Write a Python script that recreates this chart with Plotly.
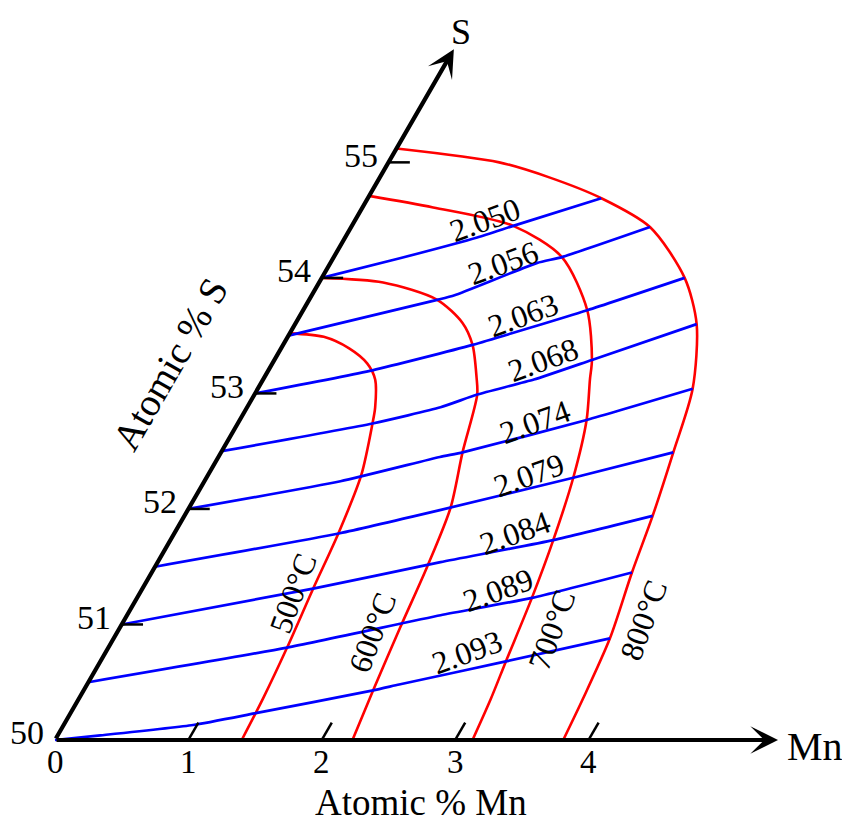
import numpy as np
import plotly.graph_objects as go

# ---------------- data (composition: atomic % Mn, atomic % S) ----------------
iso_labels = ["2.050", "2.056", "2.063", "2.068", "2.074", "2.079", "2.084", "2.089", "2.093"]

iso_2050_mn = [0.00, 0.50, 0.99, 1.21, 1.75]
iso_2050_s = [54.00, 54.17, 54.35, 54.45, 54.69]
iso_2056_mn = [0.00, 0.96, 1.07, 1.55, 1.71, 2.24]
iso_2056_s = [53.50, 53.81, 53.85, 54.13, 54.18, 54.44]
iso_2063_mn = [0.00, 0.78, 1.42, 2.13, 2.72]
iso_2063_s = [53.00, 53.20, 53.42, 53.72, 54.00]
iso_2068_mn = [0.00, 1.01, 1.45, 1.67, 2.03, 2.38, 3.01]
iso_2068_s = [52.50, 52.74, 52.88, 52.99, 53.12, 53.29, 53.60]
iso_2074_mn = [0.00, 1.02, 1.66, 1.81, 2.60, 3.26]
iso_2074_s = [52.00, 52.24, 52.45, 52.49, 52.77, 53.04]
iso_2079_mn = [0.00, 1.24, 1.89, 2.75, 3.39]
iso_2079_s = [51.50, 51.79, 51.99, 52.27, 52.49]
iso_2084_mn = [0.00, 1.28, 2.12, 2.87, 3.51]
iso_2084_s = [51.00, 51.31, 51.54, 51.73, 51.94]
iso_2089_mn = [0.00, 1.34, 2.35, 2.96, 3.60]
iso_2089_s = [50.50, 50.80, 51.08, 51.23, 51.45]
iso_2093_mn = [0.00, 0.32, 0.97, 1.38, 2.17, 2.34, 3.04, 3.72]
iso_2093_s = [50.00, 50.04, 50.13, 50.23, 50.43, 50.48, 50.68, 50.88]

temp_labels = ["500°C", "600°C", "700°C", "800°C"]

t500_mn = [0.00, 0.27, 0.51, 0.71, 0.84, 0.96, 1.01, 1.15, 1.23, 1.28, 1.34, 1.38, 1.40]
t500_s = [53.52, 53.49, 53.39, 53.26, 53.12, 52.88, 52.74, 52.29, 51.79, 51.31, 50.80, 50.36, 50.00]
t600_mn = [0.00, 0.48, 0.96, 1.25, 1.42, 1.59, 1.67, 1.81, 1.96, 2.04, 2.10, 2.17, 2.23]
t600_s = [54.00, 53.96, 53.81, 53.61, 53.42, 53.14, 52.99, 52.49, 52.01, 51.50, 50.98, 50.43, 50.00]
t700_mn = [0.00, 0.53, 1.21, 1.71, 2.13, 2.38, 2.45, 2.60, 2.75, 2.87, 2.96, 3.04, 3.09, 3.13]
t700_s = [54.71, 54.61, 54.45, 54.18, 53.72, 53.29, 53.12, 52.77, 52.27, 51.73, 51.23, 50.68, 50.35, 50.00]
t800_mn = [0.00, 0.83, 1.27, 1.75, 2.24, 2.72, 3.01, 3.26, 3.39, 3.51, 3.60, 3.72, 3.78, 3.81]
t800_s = [55.12, 55.00, 54.87, 54.69, 54.44, 54.00, 53.60, 53.04, 52.49, 51.94, 51.45, 50.88, 50.35, 50.00]

mn_ticks = [0, 1, 2, 3, 4]
mn_tick_labels = ["0", "1", "2", "3", "4"]
s_ticks = [50, 51, 52, 53, 54, 55]
s_tick_labels = ["50", "51", "52", "53", "54", "55"]

# ---------------- layout helpers ----------------
SQ = np.sqrt(3) / 2


def to_xy(mn, s):
    mn = np.asarray(mn, float)
    s = np.asarray(s, float) - 50.0
    return mn + 0.5 * s, SQ * s


FONT = "Liberation Serif"
BLUE = "#0000ff"
RED = "#ff0000"

fig = go.Figure()

temps = [(t500_mn, t500_s), (t600_mn, t600_s), (t700_mn, t700_s), (t800_mn, t800_s)]
for mn, s in temps:
    x, y = to_xy(mn, s)
    fig.add_trace(go.Scatter(x=x, y=y, mode="lines",
                             line=dict(color=RED, width=2.6, shape="spline", smoothing=0.8),
                             hoverinfo="skip", showlegend=False))

isos = [(iso_2050_mn, iso_2050_s), (iso_2056_mn, iso_2056_s), (iso_2063_mn, iso_2063_s),
        (iso_2068_mn, iso_2068_s), (iso_2074_mn, iso_2074_s), (iso_2079_mn, iso_2079_s),
        (iso_2084_mn, iso_2084_s), (iso_2089_mn, iso_2089_s), (iso_2093_mn, iso_2093_s)]
for mn, s in isos:
    x, y = to_xy(mn, s)
    fig.add_trace(go.Scatter(x=x, y=y, mode="lines",
                             line=dict(color=BLUE, width=2.7, shape="spline", smoothing=0.5),
                             hoverinfo="skip", showlegend=False))

# tick marks
for k in mn_ticks[1:]:
    x, y = to_xy([k, k], [50.0, 50.15])
    fig.add_trace(go.Scatter(x=x, y=y, mode="lines", line=dict(color="black", width=2.5),
                             hoverinfo="skip", showlegend=False))
for v in s_ticks[1:]:
    x, y = to_xy([0, 0.16], [v, v])
    fig.add_trace(go.Scatter(x=x, y=y, mode="lines", line=dict(color="black", width=2.5),
                             hoverinfo="skip", showlegend=False))

ann = []
# axes with arrows
mx, my = to_xy(5.42, 50)
sx, sy = to_xy(0, 55.98)
for (tx, ty) in [(mx, my), (sx, sy)]:
    ann.append(dict(x=float(tx), y=float(ty), ax=0, ay=0, xref="x", yref="y", axref="x", ayref="y",
                    text="", showarrow=True, arrowhead=3, arrowsize=1.1, arrowwidth=4.2,
                    arrowcolor="black", standoff=0, startstandoff=0))

# tick labels
for k, lab in zip(mn_ticks, mn_tick_labels):
    x, y = to_xy(k, 50)
    ann.append(dict(x=float(x), y=float(y), text=lab, showarrow=False, yshift=-22,
                    xanchor="center", yanchor="middle", font=dict(family=FONT, size=33, color="black")))
for v, lab in zip(s_ticks, s_tick_labels):
    x, y = to_xy(0, v)
    ann.append(dict(x=float(x), y=float(y), text=lab, showarrow=False, xshift=-9, yshift=7,
                    xanchor="right", yanchor="middle", font=dict(family=FONT, size=34, color="black")))

# iso-line labels
iso_lab_mn = [0.97, 1.29, 1.67, 2.01, 2.22, 2.41, 2.55, 2.67, 2.71]
iso_lab_s = [54.50, 54.13, 53.68, 53.29, 52.75, 52.29, 51.79, 51.30, 50.76]
for lab, m, s in zip(iso_labels, iso_lab_mn, iso_lab_s):
    x, y = to_xy(m, s)
    ann.append(dict(x=float(x), y=float(y), text=lab, showarrow=False, textangle=-20,
                    xanchor="center", yanchor="middle", font=dict(family=FONT, size=32, color="black")))

temp_lab_mn = [1.15, 1.91, 3.25, 3.89]
temp_lab_s = [51.27, 50.93, 50.95, 51.04]
for lab, m, s in zip(temp_labels, temp_lab_mn, temp_lab_s):
    x, y = to_xy(m, s)
    ann.append(dict(x=float(x), y=float(y), text=lab, showarrow=False, textangle=-70,
                    xanchor="center", yanchor="middle", font=dict(family=FONT, size=32, color="black")))

# axis names (positions in screen-calibrated plot units)
ann.append(dict(x=3.043, y=(740 - 32) / 133.4, text="S", showarrow=False, xanchor="center", yanchor="middle",
                font=dict(family=FONT, size=36, color="black")))
ann.append(dict(x=5.697, y=-0.052, text="Mn", showarrow=False, xanchor="center", yanchor="middle",
                font=dict(family=FONT, size=40, color="black")))
ann.append(dict(x=2.744, y=(740 - 803) / 133.4, text="Atomic % Mn", showarrow=False, xanchor="center",
                yanchor="middle", font=dict(family=FONT, size=37, color="black")))
ann.append(dict(x=0.862, y=2.826, text="Atomic % S", showarrow=False, xanchor="center", yanchor="middle",
                textangle=-60, font=dict(family=FONT, size=39, color="black")))

# page body adds an 8px offset; ranges are chosen so the drawing lands where the reference has it
fig.update_layout(
    width=850, height=825,
    margin=dict(l=0, r=0, t=0, b=0),
    paper_bgcolor="white", plot_bgcolor="white",
    xaxis=dict(range=[-0.3523, 6.0195], visible=False, fixedrange=True),
    yaxis=dict(range=[-0.6972, 5.4873], visible=False, fixedrange=True),
    annotations=ann,
    showlegend=False,
)

fig.write_html("out.html")
